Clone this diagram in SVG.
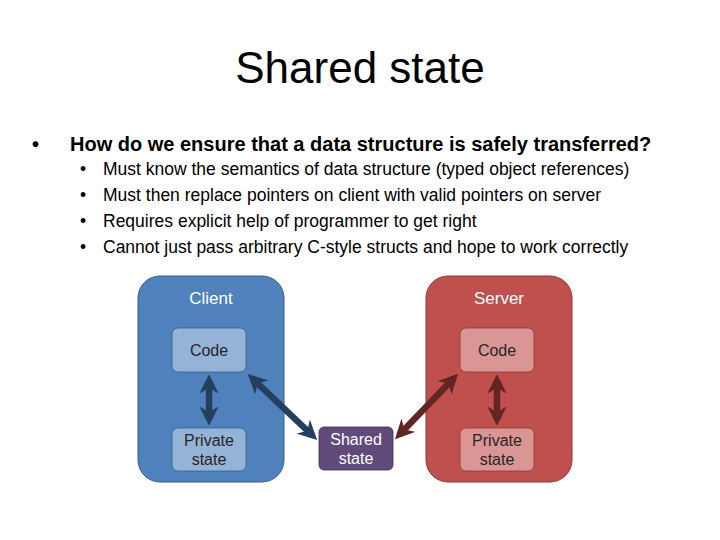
<svg xmlns="http://www.w3.org/2000/svg" width="720" height="540" viewBox="0 0 720 540">
<defs>
<style>
text{font-family:"Liberation Sans",Arial,sans-serif}
.sub{font-size:17.5px}
.lbl{font-size:17px;text-anchor:middle}
.in{font-size:16px;text-anchor:middle;fill:#262626}
.bc{stroke:#243f60;stroke-width:6.5;fill:none}
.bs{stroke:#632523;stroke-width:6.5;fill:none}
</style>
<marker id="ab" viewBox="0 0 10 10" refX="7" refY="5" markerWidth="3" markerHeight="3" orient="auto-start-reverse" markerUnits="strokeWidth"><path d="M0,0 L10,5 L0,10 L3,5 z" fill="#243f60"/></marker>
<marker id="as" viewBox="0 0 10 10" refX="7" refY="5" markerWidth="3" markerHeight="3" orient="auto-start-reverse" markerUnits="strokeWidth"><path d="M0,0 L10,5 L0,10 L3,5 z" fill="#632523"/></marker>
</defs>
<rect width="720" height="540" fill="#fff"/>
<text x="360" y="83" font-size="44" text-anchor="middle">Shared state</text>
<text x="32" y="151" font-size="20" font-weight="bold">•</text>
<text x="70" y="151" font-size="20" font-weight="bold">How do we ensure that a data structure is safely transferred?</text>
<g class="sub">
<text x="80" y="175">•</text><text x="103" y="175">Must know the semantics of data structure (typed object references)</text>
<text x="80" y="201">•</text><text x="103" y="201">Must then replace pointers on client with valid pointers on server</text>
<text x="80" y="227">•</text><text x="103" y="227">Requires explicit help of programmer to get right</text>
<text x="80" y="253">•</text><text x="103" y="253">Cannot just pass arbitrary C-style structs and hope to work correctly</text>
</g>
<g id="client">
<rect x="138" y="276" width="146" height="206" rx="22" fill="#4f81bd" stroke="#385d8a"/>
<text x="211" y="304" class="lbl" fill="#fff">Client</text>
</g>
<g id="server">
<rect x="426" y="276" width="146" height="206" rx="22" fill="#c0504d" stroke="#8c3836"/>
<text x="499" y="304" class="lbl" fill="#fff">Server</text>
</g>
<g id="client-code"><rect x="172" y="328" width="74" height="44" rx="6" fill="#95b3d7" stroke="#385d8a" stroke-width="0.8"/><text x="209" y="356" class="in">Code</text></g>
<g id="client-private"><rect x="172" y="428" width="74" height="43" rx="6" fill="#95b3d7" stroke="#385d8a" stroke-width="0.8"/><text x="209" y="446" class="in">Private</text><text x="209" y="465" class="in">state</text></g>
<g id="shared"><rect x="319" y="427" width="74" height="43" rx="5" fill="#604a7b" stroke="#3f3151" stroke-width="0.8"/><text x="356" y="445" class="in" style="fill:#fff">Shared</text><text x="356" y="464" class="in" style="fill:#fff">state</text></g>
<g id="server-code"><rect x="460" y="328" width="74" height="44" rx="6" fill="#d99694" stroke="#8c3836" stroke-width="0.8"/><text x="497" y="356" class="in">Code</text></g>
<g id="server-private"><rect x="460" y="428" width="74" height="43" rx="6" fill="#d99694" stroke="#8c3836" stroke-width="0.8"/><text x="497" y="446" class="in">Private</text><text x="497" y="465" class="in">state</text></g>
<g id="connectors">
<line x1="209" y1="380" x2="209" y2="420" class="bc" marker-start="url(#ab)" marker-end="url(#ab)"/>
<line x1="252" y1="378" x2="313" y2="436" class="bc" marker-start="url(#ab)" marker-end="url(#ab)"/>
<line x1="454" y1="378" x2="399" y2="435" class="bs" marker-start="url(#as)" marker-end="url(#as)"/>
<line x1="497" y1="380" x2="497" y2="420" class="bs" marker-start="url(#as)" marker-end="url(#as)"/>
</g>
</svg>
